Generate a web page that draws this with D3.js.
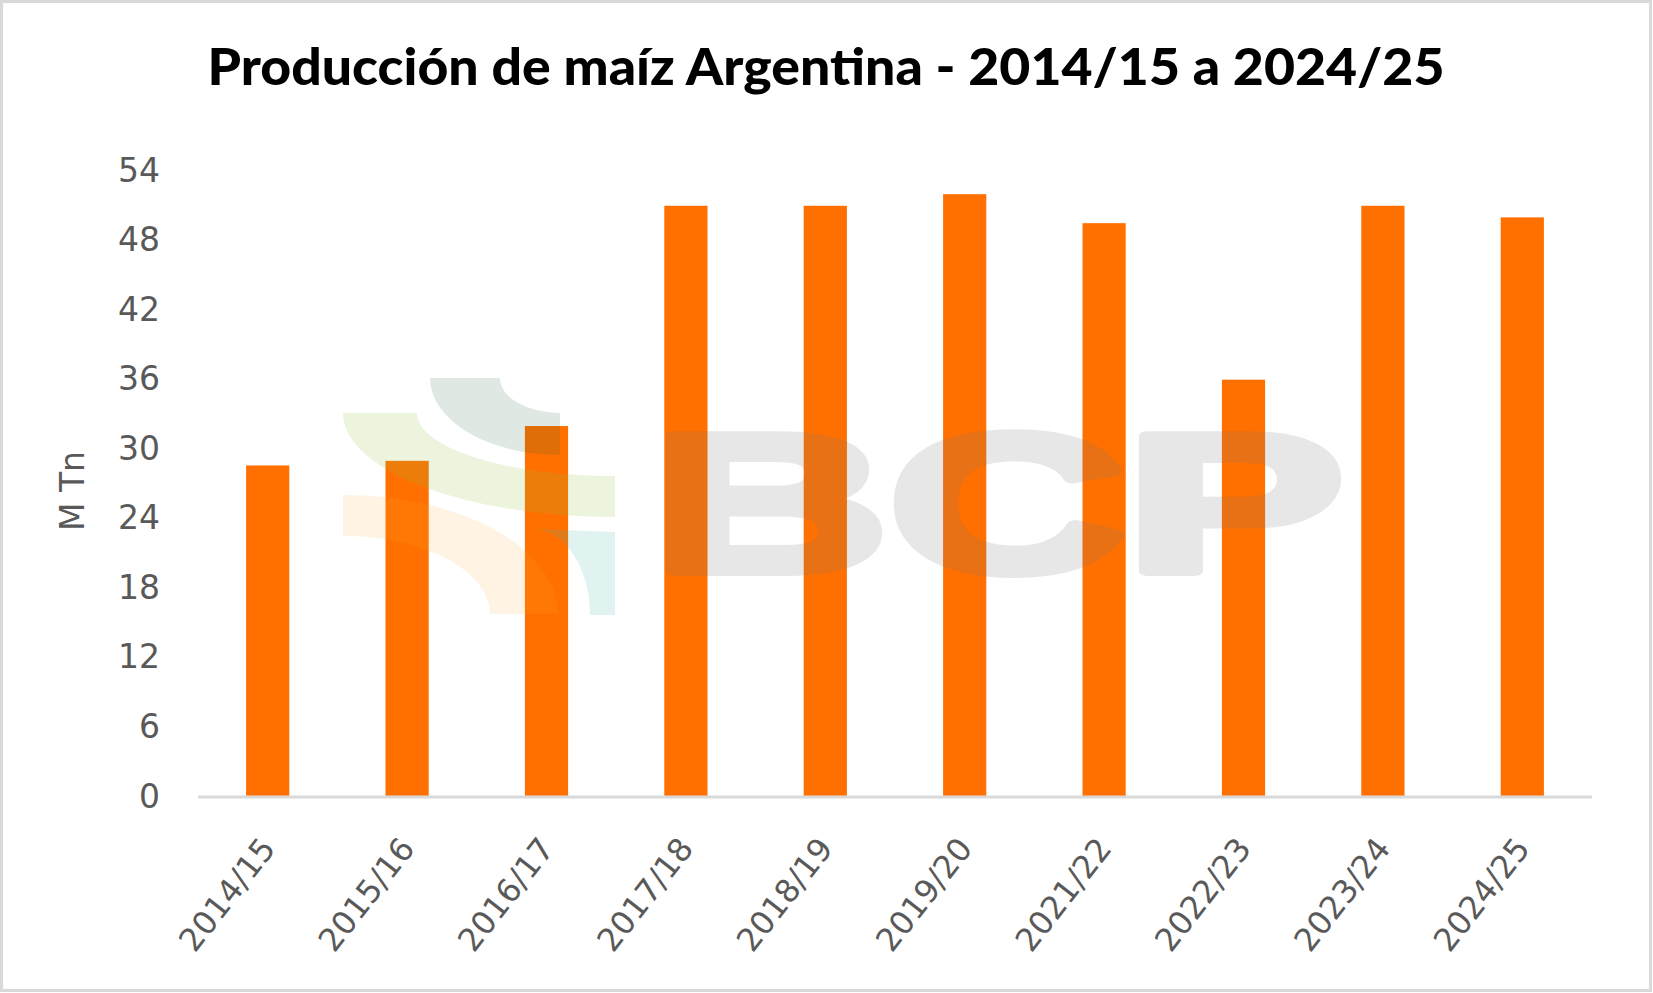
<!DOCTYPE html>
<html>
<head>
<meta charset="utf-8">
<script src="https://cdn.jsdelivr.net/npm/d3@7"></script>
<style>
  html, body { margin: 0; padding: 0; background: #fff; }
  svg { display: block; }
</style>
</head>
<body>
<svg id="chart" width="1653" height="993"></svg>
<script>
// ---- data ----
const categories = ["2014/15", "2015/16", "2016/17", "2017/18", "2018/19", "2019/20", "2021/22", "2022/23", "2023/24", "2024/25"];
const production = [28.6, 29.0, 32.0, 51.0, 51.0, 52.0, 49.5, 36.0, 51.0, 50.0];
const yTicks = [0, 6, 12, 18, 24, 30, 36, 42, 48, 54];
const titleText = "Producción de maíz Argentina - 2014/15 a 2024/25";
const yAxisTitle = "M Tn";

// ---- layout ----
const W = 1653, H = 993;
const plot = { left: 198, right: 1592, top: 171, bottom: 797 };
const svg = d3.select("#chart");
const labelFont = "DejaVu Sans, Verdana, sans-serif";

// outer border
svg.append("rect").attr("x", 1.5).attr("y", 1.5).attr("width", W - 4).attr("height", H - 4)
  .attr("fill", "#fff").attr("stroke", "#d9d9d9").attr("stroke-width", 3);

const x = d3.scaleBand().domain(categories).range([plot.left, plot.right])
  .paddingInner(0.69).paddingOuter(0.345);
const y = d3.scaleLinear().domain([0, 54]).range([plot.bottom, plot.top]);

// bars
svg.append("g").selectAll("rect").data(categories).join("rect")
  .attr("x", d => x(d))
  .attr("width", x.bandwidth())
  .attr("y", (d, i) => y(production[i]))
  .attr("height", (d, i) => y(0) - y(production[i]))
  .attr("fill", "#ff7000");

// watermark (decorative logo), semi-transparent over the bars
const wm = svg.append("g");
function qLowerLeft(cx, cy, orx, ory, irx, iry) {
  return `M${cx - orx},${cy} A${orx},${ory} 0 0 0 ${cx},${cy + ory} L${cx},${cy + iry} A${irx},${iry} 0 0 1 ${cx - irx},${cy} Z`;
}
function qUpperRight(cx, cy, orx, ory, irx, iry) {
  return `M${cx},${cy - ory} A${orx},${ory} 0 0 1 ${cx + orx},${cy} L${cx + irx},${cy} A${irx},${iry} 0 0 0 ${cx},${cy - iry} Z`;
}
wm.append("path").attr("d", qLowerLeft(560, 378, 130, 77, 60, 35)).attr("fill", "rgb(40,100,60)").attr("opacity", 0.15);
wm.append("path").attr("d", qLowerLeft(615, 413, 272, 104, 198, 63)).attr("fill", "rgb(140,190,60)").attr("opacity", 0.17);
wm.append("path").attr("d", qUpperRight(343, 614, 215, 119, 147, 78)).attr("fill", "rgb(255,170,40)").attr("opacity", 0.13);
wm.append("path").attr("d", "M533,529 L615,532 L615,615 L590,615 A57,86 0 0 0 533,529 Z").attr("fill", "rgb(60,180,170)").attr("opacity", 0.16);
wm.append("text").text("BCP")
  .attr("x", 652).attr("y", 571)
  .attr("font-family", "Liberation Sans, Arial, sans-serif")
  .attr("font-weight", 700).attr("font-size", 196)
  .attr("textLength", 692).attr("lengthAdjust", "spacingAndGlyphs")
  .attr("fill", "#767676").attr("stroke", "#767676").attr("stroke-width", 10)
  .attr("stroke-linejoin", "round")
  .attr("opacity", 0.17);

// x axis line
svg.append("line").attr("x1", plot.left).attr("x2", plot.right)
  .attr("y1", y(0)).attr("y2", y(0))
  .attr("stroke", "#d9d9d9").attr("stroke-width", 3);

// y tick labels
svg.append("g").selectAll("text").data(yTicks).join("text")
  .attr("x", 160).attr("y", d => y(d) - 1)
  .attr("text-anchor", "end").attr("dominant-baseline", "central")
  .attr("font-family", labelFont)
  .attr("font-size", 33).attr("fill", "#595959")
  .text(d => d);

// x tick labels
svg.append("g").selectAll("text").data(categories).join("text")
  .attr("transform", d => `translate(${x(d) + x.bandwidth() / 2 + 9},849) rotate(-52)`)
  .attr("text-anchor", "end")
  .attr("font-family", labelFont)
  .attr("font-size", 32).attr("fill", "#595959")
  .text(d => d);

// y axis title
svg.append("text")
  .attr("transform", "translate(84,491) rotate(-90)")
  .attr("text-anchor", "middle")
  .attr("font-family", labelFont)
  .attr("font-size", 33).attr("fill", "#595959")
  .text(yAxisTitle);

// title
const t = svg.append("text")
  .attr("x", 826).attr("y", 85)
  .attr("text-anchor", "middle")
  .attr("font-family", "Lato, Inter, sans-serif")
  .attr("font-weight", 900).attr("font-size", 51).attr("fill", "#000")
  .text(titleText);
const len = t.node().getComputedTextLength();
if (Math.abs(len - 1237) > 10) t.attr("textLength", 1237).attr("lengthAdjust", "spacingAndGlyphs");
</script>
</body>
</html>
